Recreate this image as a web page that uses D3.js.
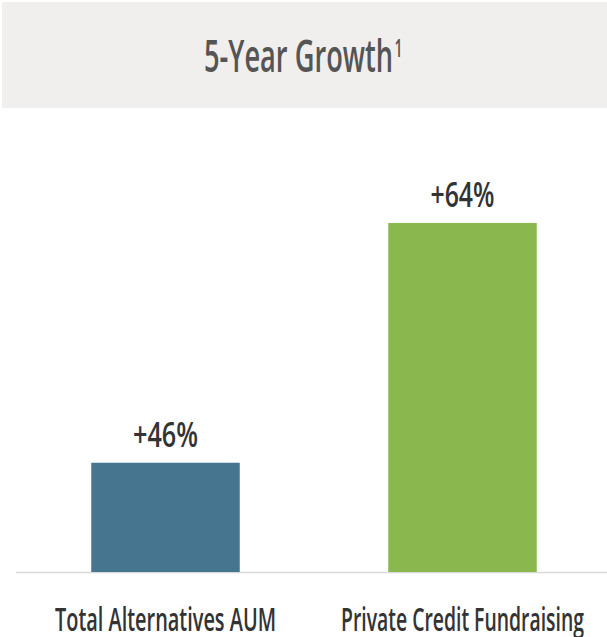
<!DOCTYPE html>
<html>
<head>
<meta charset="utf-8">
<script src="https://cdn.jsdelivr.net/npm/d3@7"></script>
<style>
  html, body { margin: 0; padding: 0; background: #ffffff; }
  svg { display: block; }
  text { font-family: "Open Sans", "Noto Sans", sans-serif; font-weight: 600; }
</style>
</head>
<body>
<svg id="chart" width="607" height="637"></svg>
<script>
// ---- data ----
const categories = ["Total Alternatives AUM", "Private Credit Fundraising"];
const values = [46, 64];
const valueLabels = ["+46%", "+64%"];
const colors = ["#467590", "#8ab84f"];
const titleText = "5-Year Growth";
const titleNote = "1";

// ---- layout ----
const W = 607, H = 637;
const svg = d3.select("#chart");

// header box
svg.append("rect")
  .attr("x", 2).attr("y", 2)
  .attr("width", W - 2).attr("height", 106)
  .attr("fill", "#f0efed");

svg.append("text")
  .attr("x", W / 2 - 5).attr("y", 72)
  .attr("text-anchor", "middle")
  .attr("fill", "#555555")
  .attr("font-size", 46)
  .attr("textLength", 189)
  .attr("lengthAdjust", "spacingAndGlyphs")
  .text(titleText);
svg.append("text")
  .attr("x", W / 2 + 91).attr("y", 57)
  .attr("fill", "#555555")
  .attr("font-size", 26)
  .attr("textLength", 8)
  .attr("lengthAdjust", "spacingAndGlyphs")
  .text(titleNote);

// scales
const x = d3.scaleBand()
  .domain(categories)
  .range([17, 611])
  .paddingInner(0.5)
  .paddingOuter(0.25);

const y = d3.scaleLinear()
  .domain([37.8, 70])
  .range([572, 143]);

// baseline
svg.append("line")
  .attr("x1", 16).attr("x2", W)
  .attr("y1", y(37.8) + 0.5).attr("y2", y(37.8) + 0.5)
  .attr("stroke", "#d9d9d9").attr("stroke-width", 1.5);

// bars
svg.selectAll("rect.bar")
  .data(categories)
  .join("rect")
  .attr("class", "bar")
  .attr("x", d => x(d))
  .attr("width", x.bandwidth())
  .attr("y", (d, i) => y(values[i]))
  .attr("height", (d, i) => y(37.8) - y(values[i]))
  .attr("fill", (d, i) => colors[i]);

// value labels
const valWidths = [65, 64];
svg.selectAll("text.val")
  .data(categories)
  .join("text")
  .attr("class", "val")
  .attr("x", d => x(d) + x.bandwidth() / 2)
  .attr("y", (d, i) => y(values[i]) - 16)
  .attr("text-anchor", "middle")
  .attr("fill", "#333333")
  .attr("font-size", 35)
  .attr("textLength", (d, i) => valWidths[i])
  .attr("lengthAdjust", "spacingAndGlyphs")
  .text((d, i) => valueLabels[i]);

// category labels
const catWidths = [221, 243];
svg.selectAll("text.cat")
  .data(categories)
  .join("text")
  .attr("class", "cat")
  .attr("x", d => x(d) + x.bandwidth() / 2)
  .attr("y", 631)
  .attr("text-anchor", "middle")
  .attr("fill", "#333333")
  .attr("font-size", 33)
  .attr("textLength", (d, i) => catWidths[i])
  .attr("lengthAdjust", "spacingAndGlyphs")
  .text(d => d);
</script>
</body>
</html>
